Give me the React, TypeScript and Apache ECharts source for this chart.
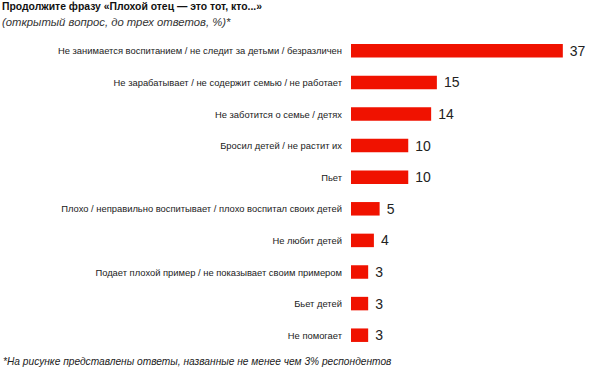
import React, { useEffect, useRef } from "react";
import * as echarts from "echarts";

const categories = [
  "Не занимается воспитанием / не следит за детьми / безразличен",
  "Не зарабатывает / не содержит семью / не работает",
  "Не заботится о семье / детях",
  "Бросил детей / не растит их",
  "Пьет",
  "Плохо / неправильно воспитывает / плохо воспитал своих детей",
  "Не любит детей",
  "Подает плохой пример / не показывает своим примером",
  "Бьет детей",
  "Не помогает",
];
const values = [37, 15, 14, 10, 10, 5, 4, 3, 3, 3];

const titleText = "Продолжите фразу «Плохой отец — это тот, кто...»";
const subtitleText = "(открытый вопрос, до трех ответов, %)*";
const footnoteText = "*На рисунке представлены ответы, названные не менее чем 3% респондентов";

export default function App() {
  const ref = useRef<HTMLDivElement>(null);
  useEffect(() => {
    if (!ref.current) return;
    const chart = echarts.init(ref.current, null, { renderer: "svg" });
    chart.setOption({
      animation: false,
      grid: { left: 351, right: 16, top: 35, bottom: 19, containLabel: false },
      xAxis: {
        type: "value",
        min: 0,
        max: 40,
        show: false,
      },
      yAxis: {
        type: "category",
        data: categories,
        inverse: true,
        axisLine: { show: false },
        axisTick: { show: false },
        splitLine: { show: false },
        axisLabel: {
          margin: 9,
          fontSize: 9.4,
          color: "#222",
          fontFamily: "'Liberation Sans', Arial, sans-serif",
        },
      },
      series: [
        {
          type: "bar",
          data: values,
          barWidth: 13.5,
          itemStyle: { color: "#f01200" },
          label: {
            show: true,
            position: "right",
            distance: 7,
            fontSize: 14,
            color: "#222",
            fontFamily: "'Liberation Sans', Arial, sans-serif",
          },
        },
      ],
      graphic: [
        {
          type: "text",
          left: 2,
          top: 1,
          style: {
            text: titleText,
            fontSize: 10.4,
            fontWeight: "bold",
            fill: "#111",
            fontFamily: "'Liberation Sans', Arial, sans-serif",
          },
        },
        {
          type: "text",
          left: 2,
          top: 16,
          style: {
            text: subtitleText,
            fontSize: 11.3,
            fontStyle: "italic",
            fill: "#333",
            fontFamily: "'Liberation Sans', Arial, sans-serif",
          },
        },
        {
          type: "text",
          left: 3,
          top: 356,
          style: {
            text: footnoteText,
            fontSize: 10.2,
            fontStyle: "italic",
            fill: "#222",
            fontFamily: "'Liberation Sans', Arial, sans-serif",
          },
        },
      ],
    });
    return () => chart.dispose();
  }, []);
  return <div ref={ref} style={{ width: 596, height: 370, position: "absolute", left: 0, top: 0 }} />;
}
